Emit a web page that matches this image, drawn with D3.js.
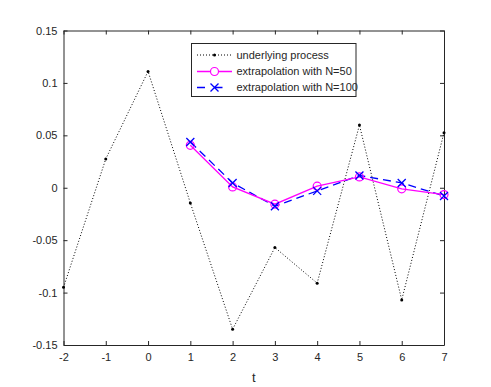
<!DOCTYPE html>
<html><head><meta charset="utf-8">
<script src="https://cdn.jsdelivr.net/npm/d3@7"></script>
<style>body{margin:0;background:#fff}svg{display:block}text{font-family:"Liberation Sans",Arial,sans-serif}</style>
</head><body>
<script>
const tProcess = [-2,-1,0,1,2,3,4,5,6,7];
const underlying = [-0.095,0.0275,0.111,-0.0145,-0.135,-0.057,-0.091,0.0598,-0.107,0.0525];
const tExtrap = [1,2,3,4,5,6,7];
const extrap50 = [0.0405,0.0008,-0.0157,0.0015,0.0103,-0.001,-0.0065];
const extrap100 = [0.0437,0.0046,-0.0176,-0.003,0.0117,0.0046,-0.0078];
const xTicks = [-2,-1,0,1,2,3,4,5,6,7];
const xTickLabels = ["-2","-1","0","1","2","3","4","5","6","7"];
const yTicks = [-0.15,-0.1,-0.05,0,0.05,0.1,0.15];
const yTickLabels = ["-0.15","-0.1","-0.05","0","0.05","0.1","0.15"];
const legendLabels = ["underlying process","extrapolation with N=50","extrapolation with N=100"];

const W=491,H=387;
const m={l:63.5,r:444,t:30.5,b:345};
const svg=d3.select("body").append("svg").attr("width",W).attr("height",H);
const x=d3.scaleLinear().domain([-2,7]).range([m.l,m.r]);
const y=d3.scaleLinear().domain([-0.15,0.15]).range([m.b,m.t]);

const tl=4;
const g=svg.append("g");
const axB=d3.axisBottom(x).tickValues(xTicks).tickSizeInner(-tl).tickSizeOuter(0).tickPadding(8).tickFormat((d,i)=>xTickLabels[i]);
const axT=d3.axisTop(x).tickValues(xTicks).tickSizeInner(-tl).tickSizeOuter(0).tickFormat("");
const axL=d3.axisLeft(y).tickValues(yTicks).tickSizeInner(-tl).tickSizeOuter(0).tickPadding(6).tickFormat((d,i)=>yTickLabels[i]);
const axR=d3.axisRight(y).tickValues(yTicks).tickSizeInner(-tl).tickSizeOuter(0).tickFormat("");
[[axB,`translate(0,${m.b})`],[axT,`translate(0,${m.t})`],[axL,`translate(${m.l},0)`],[axR,`translate(${m.r},0)`]].forEach(([a,tr])=>{
  const gg=g.append("g").attr("transform",tr).call(a);
  gg.selectAll("path,line").attr("stroke","#262626").attr("stroke-width",1);
  gg.selectAll("text").attr("font-size",11).attr("fill","#262626").attr("font-family","Liberation Sans, Arial, sans-serif");
});
svg.append("text").attr("x",(m.l+m.r)/2).attr("y",382).attr("text-anchor","middle").attr("font-size",13).attr("fill","#262626").text("t");

const line=d3.line().x(d=>x(d[0])).y(d=>y(d[1]));
const p0=tProcess.map((t,i)=>[t,underlying[i]]);
const p50=tExtrap.map((t,i)=>[t,extrap50[i]]);
const p100=tExtrap.map((t,i)=>[t,extrap100[i]]);

svg.append("path").attr("d",line(p0)).attr("fill","none").attr("stroke","#000").attr("stroke-width",1).attr("stroke-dasharray","1,2");
svg.selectAll(".dot0").data(p0).enter().append("circle").attr("cx",d=>x(d[0])).attr("cy",d=>y(d[1])).attr("r",1.5).attr("fill","#000");

svg.append("path").attr("d",line(p100)).attr("fill","none").attr("stroke","#0000ff").attr("stroke-width",1.3).attr("stroke-dasharray","8,5");
svg.append("path").attr("d",line(p50)).attr("fill","none").attr("stroke","#ff00ff").attr("stroke-width",1.3);
svg.selectAll(".c50").data(p50).enter().append("circle").attr("cx",d=>x(d[0])).attr("cy",d=>y(d[1])).attr("r",4).attr("fill","none").attr("stroke","#ff00ff").attr("stroke-width",1.2);
const xs=4;
const xm=(sel)=>sel.attr("d",d=>{const cx=x(d[0]),cy=y(d[1]);return `M${cx-xs},${cy-xs}L${cx+xs},${cy+xs}M${cx-xs},${cy+xs}L${cx+xs},${cy-xs}`;}).attr("stroke","#0000ff").attr("stroke-width",1.3).attr("fill","none");
svg.selectAll(".x100").data(p100).enter().append("path").call(xm);

const lg=svg.append("g");
lg.append("rect").attr("x",191.5).attr("y",43.5).attr("width",164.5).attr("height",53).attr("fill","#fff").attr("stroke","#262626").attr("stroke-width",1);
const ly=[55,71.5,87.5];
const lx0=197,lx1=232,lxm=214.5;
lg.append("line").attr("x1",lx0).attr("x2",lx1).attr("y1",ly[0]).attr("y2",ly[0]).attr("stroke","#000").attr("stroke-dasharray","1,2");
lg.append("circle").attr("cx",lxm).attr("cy",ly[0]).attr("r",1.5).attr("fill","#000");
lg.append("line").attr("x1",lx0).attr("x2",lx1).attr("y1",ly[1]).attr("y2",ly[1]).attr("stroke","#ff00ff").attr("stroke-width",1.3);
lg.append("circle").attr("cx",lxm).attr("cy",ly[1]).attr("r",4).attr("fill","#fff").attr("stroke","#ff00ff").attr("stroke-width",1.2);
lg.append("line").attr("x1",lx0).attr("x2",lx1).attr("y1",ly[2]).attr("y2",ly[2]).attr("stroke","#0000ff").attr("stroke-width",1.3).attr("stroke-dasharray","8,9.5");
lg.append("path").datum([x.invert(lxm),y.invert(ly[2])]).call(xm);
legendLabels.forEach((s,i)=>lg.append("text").attr("x",236.5).attr("y",ly[i]).attr("dy","0.35em").attr("font-size",11).attr("fill","#262626").text(s));
</script>
</body></html>
